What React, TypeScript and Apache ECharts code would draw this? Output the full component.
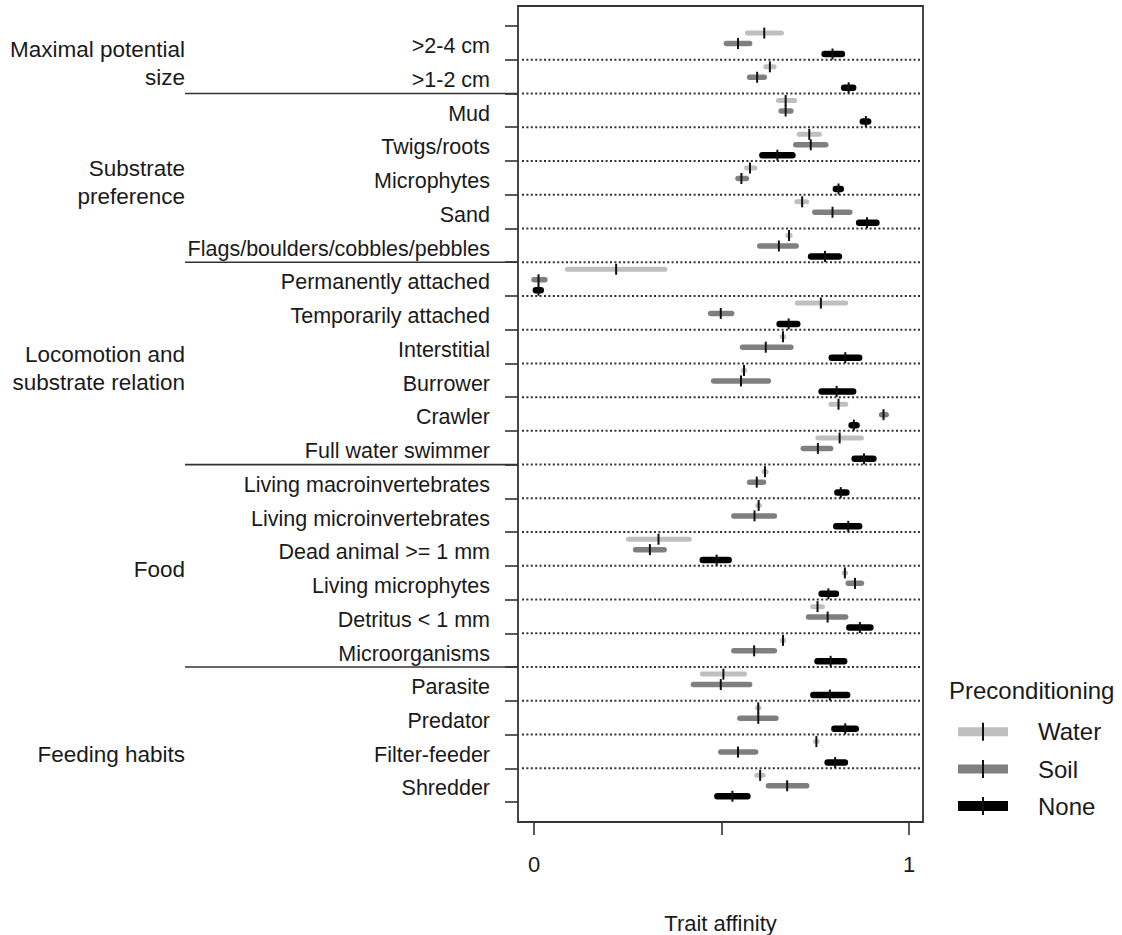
import React, { useEffect, useRef } from "react";
import * as echarts from "echarts";

const traits = [
  ">2-4 cm", ">1-2 cm", "Mud", "Twigs/roots", "Microphytes", "Sand",
  "Flags/boulders/cobbles/pebbles", "Permanently attached", "Temporarily attached",
  "Interstitial", "Burrower", "Crawler", "Full water swimmer",
  "Living macroinvertebrates", "Living microinvertebrates", "Dead animal >= 1 mm",
  "Living microphytes", "Detritus < 1 mm", "Microorganisms",
  "Parasite", "Predator", "Filter-feeder", "Shredder",
];

const groupNames = [
  "Maximal potential\nsize",
  "Substrate\npreference",
  "Locomotion and\nsubstrate relation",
  "Food",
  "Feeding habits",
];
const groupLabelRow = [1.12, 4.63, 10.15, 16.1, 21.6];
const groupBoundaries = [2, 7, 13, 19];

// [low, median, high]
const waterLow = [0.569, 0.618, 0.652, 0.707, 0.567, 0.701, 0.677, 0.089, 0.702, 0.662, 0.558, 0.792, 0.757, 0.613, 0.597, 0.252, 0.827, 0.743, 0.662, 0.449, 0.596, 0.751, 0.594];
const waterMed = [0.614, 0.629, 0.671, 0.734, 0.576, 0.715, 0.680, 0.219, 0.765, 0.664, 0.560, 0.812, 0.815, 0.616, 0.599, 0.332, 0.829, 0.756, 0.664, 0.505, 0.598, 0.753, 0.603];
const waterHigh = [0.660, 0.640, 0.695, 0.761, 0.589, 0.727, 0.683, 0.349, 0.831, 0.666, 0.562, 0.831, 0.873, 0.619, 0.601, 0.414, 0.831, 0.769, 0.666, 0.561, 0.600, 0.755, 0.611];

const soilLow = [0.513, 0.575, 0.659, 0.698, 0.544, 0.749, 0.602, 0.000, 0.471, 0.556, 0.479, 0.927, 0.718, 0.575, 0.533, 0.271, 0.838, 0.732, 0.533, 0.425, 0.549, 0.498, 0.625];
const soilMed = [0.544, 0.595, 0.671, 0.738, 0.553, 0.796, 0.653, 0.012, 0.498, 0.618, 0.552, 0.932, 0.757, 0.594, 0.588, 0.309, 0.856, 0.783, 0.587, 0.498, 0.598, 0.544, 0.675];
const soilHigh = [0.575, 0.614, 0.685, 0.778, 0.566, 0.842, 0.699, 0.029, 0.527, 0.685, 0.625, 0.939, 0.791, 0.612, 0.641, 0.347, 0.873, 0.831, 0.641, 0.575, 0.645, 0.591, 0.727];

const noneLow = [0.775, 0.827, 0.877, 0.609, 0.805, 0.867, 0.739, 0.005, 0.655, 0.794, 0.767, 0.847, 0.855, 0.809, 0.806, 0.450, 0.767, 0.841, 0.756, 0.745, 0.801, 0.783, 0.489];
const noneMed = [0.796, 0.839, 0.885, 0.649, 0.812, 0.888, 0.776, 0.012, 0.679, 0.830, 0.807, 0.853, 0.880, 0.818, 0.838, 0.487, 0.785, 0.869, 0.791, 0.789, 0.830, 0.803, 0.529];
const noneHigh = [0.821, 0.851, 0.891, 0.689, 0.818, 0.913, 0.813, 0.018, 0.702, 0.867, 0.851, 0.860, 0.905, 0.833, 0.867, 0.519, 0.805, 0.897, 0.827, 0.835, 0.858, 0.829, 0.569];

const xTicks = [0, 0.5, 1];
const xTickLabels = [0, 1];

const FONT = "'Liberation Sans', Arial, Helvetica, sans-serif";
const TEXT = "#1a1a1a";
const LINE = "#333333";

const seriesDefs = [
  { name: "Water", color: "#bfbfbf", width: 5, offset: 0.21, low: waterLow, med: waterMed, high: waterHigh, legendH: 9 },
  { name: "Soil", color: "#7f7f7f", width: 5.5, offset: 0.52, low: soilLow, med: soilMed, high: soilHigh, legendH: 9 },
  { name: "None", color: "#000000", width: 6.5, offset: 0.83, low: noneLow, med: noneMed, high: noneHigh, legendH: 10 },
];

export default function App() {
  const ref = useRef<HTMLDivElement>(null);

  useEffect(() => {
    if (!ref.current) return;
    const chart = echarts.init(ref.current, null, { renderer: "svg" });
    const rows = traits.map((_, i) => i);

    const barSeries = seriesDefs.map((s) => ({
      type: "custom",
      name: s.name,
      coordinateSystem: "cartesian2d",
      clip: false,
      z: 5,
      encode: { x: [1, 2, 3], y: 0 },
      data: rows.map((i) => [i, s.low[i], s.med[i], s.high[i]]),
      renderItem: (params: any, api: any) => {
        const r = api.value(0) + s.offset;
        const a = api.coord([api.value(1), r]);
        const m = api.coord([api.value(2), r]);
        const b = api.coord([api.value(3), r]);
        return {
          type: "group",
          children: [
            {
              type: "line",
              shape: { x1: a[0], y1: a[1], x2: b[0], y2: b[1] },
              style: { stroke: s.color, lineWidth: s.width, lineCap: "round" },
            },
            {
              type: "line",
              shape: { x1: m[0], y1: m[1] - 5.5, x2: m[0], y2: m[1] + 5.5 },
              style: { stroke: "#111111", lineWidth: 2 },
            },
          ],
        };
      },
    }));

    const rowLines = {
      type: "custom",
      name: "rowLines",
      coordinateSystem: "cartesian2d",
      clip: false,
      z: 1,
      silent: true,
      encode: { x: 0, y: 1 },
      data: rows.slice(1).map((i) => [0, i]),
      renderItem: (params: any, api: any) => {
        const cs = params.coordSys;
        const y = api.coord([0, api.value(1)])[1];
        return {
          type: "line",
          shape: { x1: cs.x + 4, y1: y, x2: cs.x + cs.width - 2, y2: y },
          style: { stroke: LINE, lineWidth: 2, lineDash: [2, 2.4] },
        };
      },
    };

    const groupLines = {
      type: "custom",
      name: "groupLines",
      coordinateSystem: "cartesian2d",
      clip: false,
      z: 2,
      silent: true,
      encode: { x: 0, y: 1 },
      data: groupBoundaries.map((b) => [0, b]),
      renderItem: (params: any, api: any) => {
        const cs = params.coordSys;
        const y = api.coord([0, api.value(1)])[1];
        return {
          type: "line",
          shape: { x1: cs.x - 333, y1: y, x2: cs.x, y2: y },
          style: { stroke: LINE, lineWidth: 1.6 },
        };
      },
    };

    const groupLabels = {
      type: "custom",
      name: "groupLabels",
      coordinateSystem: "cartesian2d",
      clip: false,
      z: 2,
      silent: true,
      encode: { x: 0, y: 1 },
      data: groupLabelRow.map((p, k) => [0, p, k]),
      renderItem: (params: any, api: any) => {
        const cs = params.coordSys;
        const y = api.coord([0, api.value(1)])[1];
        return {
          type: "text",
          x: cs.x - 333,
          y: y,
          style: {
            text: groupNames[api.value(2)],
            align: "right",
            verticalAlign: "middle",
            fontSize: 22.5,
            lineHeight: 28,
            fontFamily: FONT,
            fill: TEXT,
          },
        };
      },
    };

    const legendX = 958;
    const legendYs = [731.7, 769, 806];
    const legendGraphics: any[] = [
      {
        type: "text",
        x: 949,
        y: 690,
        style: { text: "Preconditioning", fontSize: 24, fontFamily: FONT, fill: TEXT, verticalAlign: "middle" },
      },
    ];
    seriesDefs.forEach((s, k) => {
      const cy = legendYs[k];
      legendGraphics.push(
        { type: "rect", shape: { x: legendX, y: cy - s.legendH / 2, width: 50, height: s.legendH }, style: { fill: s.color } },
        { type: "line", shape: { x1: legendX + 25, y1: cy - 9, x2: legendX + 25, y2: cy + 9 }, style: { stroke: "#111111", lineWidth: 2 } },
        { type: "text", x: 1038, y: cy, style: { text: s.name, fontSize: 24, fontFamily: FONT, fill: TEXT, verticalAlign: "middle" } }
      );
    });

    chart.setOption({
      animation: false,
      backgroundColor: "#ffffff",
      grid: {
        left: 518,
        top: 6,
        width: 405,
        height: 816,
        show: true,
        borderColor: LINE,
        borderWidth: 1.8,
        backgroundColor: "transparent",
        containLabel: false,
        outerBoundsMode: "none",
      },
      xAxis: {
        type: "value",
        position: "bottom",
        min: -0.0427,
        max: 1.0373,
        axisLine: { show: false, onZero: false },
        splitLine: { show: false },
        axisTick: { show: true, customValues: xTicks, length: 13, lineStyle: { color: LINE, width: 1.6 } },
        axisLabel: { customValues: xTickLabels, margin: 31, fontSize: 22, fontFamily: FONT, color: TEXT },
        name: "Trait affinity",
        nameLocation: "middle",
        nameGap: 90,
        nameTextStyle: { fontSize: 22, fontFamily: FONT, color: TEXT, verticalAlign: "top" },
      },
      yAxis: {
        type: "value",
        position: "left",
        inverse: true,
        min: -0.593,
        max: 23.593,
        axisLine: { show: false, onZero: false },
        splitLine: { show: false },
        axisTick: { show: true, customValues: traits.map((_, i) => i).concat([traits.length]), length: 13, lineStyle: { color: LINE, width: 1.6 } },
        axisLabel: {
          customValues: rows.map((i) => i + 0.6),
          formatter: (v: number) => traits[Math.floor(v + 1e-6)] ?? "",
          margin: 28,
          fontSize: 21.5,
          fontFamily: FONT,
          color: TEXT,
        },
      },
      graphic: legendGraphics,
      series: [rowLines, groupLines, groupLabels, ...barSeries],
    });

    return () => chart.dispose();
  }, []);

  return (
    <div
      ref={ref}
      style={{ position: "absolute", left: 0, top: 0, width: 1122, height: 935 }}
    />
  );
}
